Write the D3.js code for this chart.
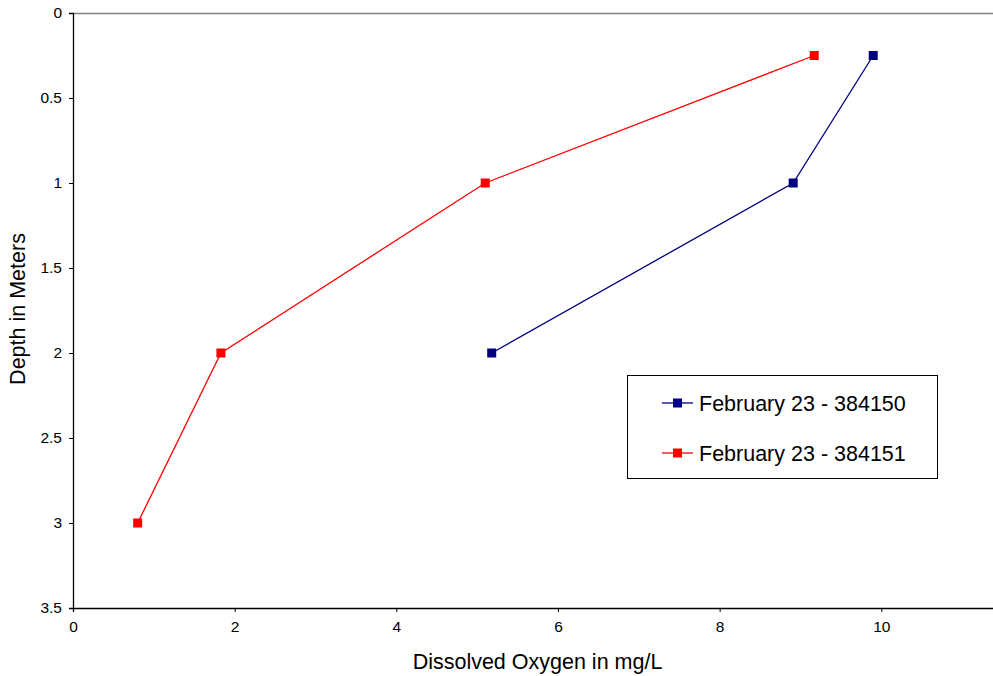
<!DOCTYPE html>
<html><head><meta charset="utf-8">
<script src="https://cdn.jsdelivr.net/npm/d3@7"></script>
<style>body{margin:0;background:#fff;overflow:hidden}svg{display:block}text{font-family:Arial,"Liberation Sans",sans-serif}</style>
</head><body>
<script>
const seriesNames = ["February 23 - 384150", "February 23 - 384151"];
const seriesColors = ["#000080", "#FF0000"];
const oxygen150 = [9.90, 8.91, 5.18];
const depth150 = [0.25, 1, 2];
const oxygen151 = [9.17, 5.10, 1.83, 0.80];
const depth151 = [0.25, 1, 2, 3];
const xTicks = [0, 2, 4, 6, 8, 10];
const yTicks = [0, 0.5, 1, 1.5, 2, 2.5, 3, 3.5];

(function () {
const W = 993, H = 676;
const svg = d3.select("body").append("svg").attr("width", W).attr("height", H);
const mLeft = 73, mTop = 13, mBottom = 608;
const x = d3.scaleLinear().domain([0, 11.5]).range([mLeft, mLeft + 11.5 * 80.83]);
const y = d3.scaleLinear().domain([0, 3.5]).range([mTop, mBottom]);

// top border
svg.append("line").attr("x1", mLeft).attr("x2", W + 20).attr("y1", mTop + 0.5).attr("y2", mTop + 0.5)
  .attr("stroke", "#808080").attr("stroke-width", 1.3);

const xAxis = svg.append("g").attr("transform", `translate(0,${mBottom})`)
  .call(d3.axisBottom(x).tickValues(xTicks).tickSize(4).tickPadding(9).tickFormat(d3.format("d")));
const yAxis = svg.append("g").attr("transform", `translate(${mLeft},0)`)
  .call(d3.axisLeft(y).tickValues(yTicks).tickSize(4).tickPadding(7).tickFormat(d => String(d)));
[xAxis, yAxis].forEach(g => {
  g.select(".domain").attr("stroke", "#000").attr("stroke-width", 1.3);
  g.selectAll(".tick line").attr("stroke", "#000");
  g.selectAll("text").attr("font-size", 15.5).attr("fill", "#000")
    .attr("font-family", "Arial, 'Liberation Sans', sans-serif");
});

const series = [
  {x: oxygen150, y: depth150, c: seriesColors[0]},
  {x: oxygen151, y: depth151, c: seriesColors[1]}
];
const line = d3.line().x(d => x(d[0])).y(d => y(d[1]));
series.forEach(s => {
  const pts = s.x.map((v, i) => [v, s.y[i]]);
  svg.append("path").datum(pts).attr("d", line).attr("fill", "none").attr("stroke", s.c).attr("stroke-width", 1.3);
  svg.selectAll(null).data(pts).enter().append("rect")
    .attr("x", d => x(d[0]) - 4.5).attr("y", d => y(d[1]) - 4.5)
    .attr("width", 9).attr("height", 9).attr("fill", s.c);
});

// axis titles
svg.append("text").attr("x", 537.5).attr("y", 669).attr("text-anchor", "middle")
  .attr("font-size", 21.5).attr("fill", "#000").text("Dissolved Oxygen in mg/L");
svg.append("text").attr("transform", "translate(25,309) rotate(-90)").attr("text-anchor", "middle")
  .attr("font-size", 21.5).attr("fill", "#000").text("Depth in Meters");

// legend
const lg = svg.append("g");
lg.append("rect").attr("x", 627.5).attr("y", 375.5).attr("width", 310).attr("height", 103)
  .attr("fill", "#fff").attr("stroke", "#000").attr("stroke-width", 1);
seriesNames.forEach((n, i) => {
  const cy = 403 + i * 50;
  lg.append("line").attr("x1", 662).attr("x2", 693).attr("y1", cy).attr("y2", cy)
    .attr("stroke", seriesColors[i]).attr("stroke-width", 1.3);
  lg.append("rect").attr("x", 677.5 - 4.5).attr("y", cy - 4.5).attr("width", 9).attr("height", 9).attr("fill", seriesColors[i]);
  lg.append("text").attr("x", 699).attr("y", cy + 7.5).attr("font-size", 21.5).attr("fill", "#000").text(n);
});
})();
</script>
</body></html>
